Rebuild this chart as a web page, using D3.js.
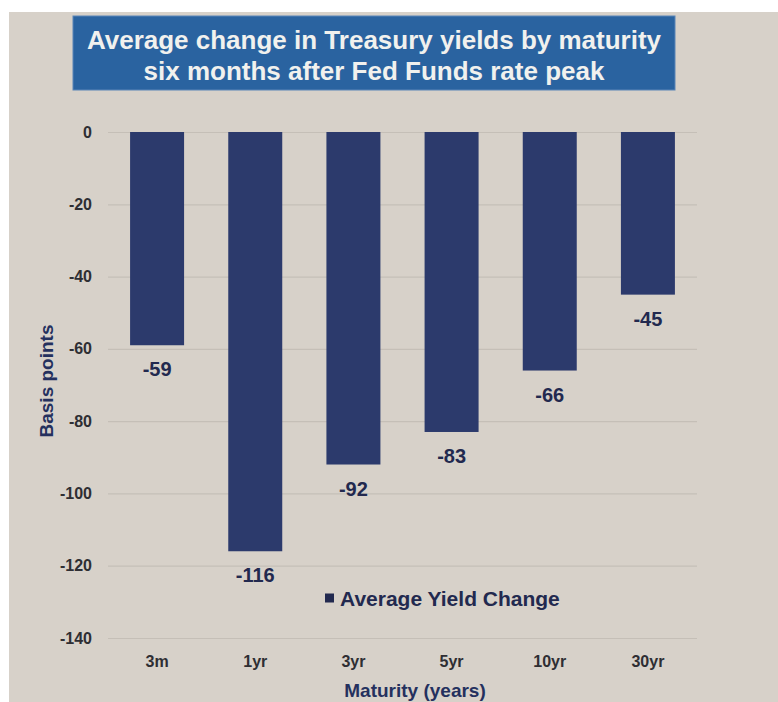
<!DOCTYPE html>
<html><head><meta charset="utf-8">
<script src="https://cdn.jsdelivr.net/npm/d3@7/dist/d3.min.js"></script>
<style>html,body{margin:0;padding:0;background:#fff;}svg{display:block;} svg text{font-family:"Liberation Sans",Arial,sans-serif;font-weight:bold;}</style>
</head><body>
<script>
const categories = ["3m","1yr","3yr","5yr","10yr","30yr"];
const values = [-59,-116,-92,-83,-66,-45];
const yTicks = [0,-20,-40,-60,-80,-100,-120,-140];
const seriesName = "Average Yield Change";
const titleLines = ["Average change in Treasury yields by maturity","six months after Fed Funds rate peak"];
const xTitle = "Maturity (years)";
const yTitle = "Basis points";

const W = 778, H = 702;
const svg = d3.select("body").append("svg").attr("width", W).attr("height", H);

// paper background
svg.append("rect").attr("x", 9).attr("y", 12).attr("width", W - 9).attr("height", H - 12).attr("fill", "#d7d1c9");

const plot = {left: 108, right: 697, top: 132, bottom: 638};
const x = d3.scaleBand().domain(categories).range([plot.left, plot.right]).paddingInner(0.45).paddingOuter(0.225);
const y = d3.scaleLinear().domain([0, -140]).range([plot.top, plot.bottom]);

// title box
svg.append("rect").attr("x", 73).attr("y", 16).attr("width", 602).attr("height", 74)
  .attr("fill", "#2a63a0").attr("stroke", "#5a86b8").attr("stroke-width", 1);
svg.append("text").attr("x", 374).attr("text-anchor", "middle").attr("fill", "#f1f1ee")
  .attr("font-size", 26)
  .selectAll("tspan").data(titleLines).join("tspan")
  .attr("x", 374).attr("y", (d, i) => 49 + i * 31).text(d => d);

// gridlines + y axis
const yAxis = d3.axisLeft(y).tickValues(yTicks).tickFormat(d => String(d))
  .tickSize(-(plot.right - plot.left)).tickPadding(16);
const gy = svg.append("g").attr("transform", `translate(${plot.left},0)`).call(yAxis);
gy.attr("font-family", null).attr("font-size", null);
gy.select(".domain").remove();
gy.selectAll(".tick line").attr("stroke", "#c5bfb7").attr("stroke-width", 1.2);
gy.selectAll(".tick text").attr("fill", "#2e2e33").attr("font-size", 16);

// bars
svg.append("g").selectAll("rect").data(values).join("rect")
  .attr("x", (d, i) => x(categories[i]))
  .attr("y", y(0))
  .attr("width", x.bandwidth())
  .attr("height", d => y(d) - y(0))
  .attr("fill", "#2c3a6c");

// value labels
svg.append("g").selectAll("text").data(values).join("text")
  .attr("x", (d, i) => x(categories[i]) + x.bandwidth() / 2)
  .attr("y", d => y(d) + 31)
  .attr("text-anchor", "middle").attr("fill", "#22294f")
  .attr("font-size", 20).text(d => String(d));

// x axis
const xAxis = d3.axisBottom(x).tickSize(0).tickPadding(18);
const gx = svg.append("g").attr("transform", `translate(0,${plot.bottom})`).call(xAxis);
gx.attr("font-family", null).attr("font-size", null);
gx.select(".domain").remove();
gx.selectAll(".tick text").attr("fill", "#2e2e33").attr("font-size", 16);

// axis titles
svg.append("text").attr("x", 415).attr("y", 697).attr("text-anchor", "middle")
  .attr("fill", "#24305e").attr("font-size", 19).text(xTitle);
svg.append("text").attr("transform", "translate(53,381) rotate(-90)").attr("text-anchor", "middle")
  .attr("fill", "#24305e").attr("font-size", 19).text(yTitle);

// legend
const lg = svg.append("g").attr("transform", "translate(325,598)");
lg.append("rect").attr("x", 0).attr("y", -4.5).attr("width", 9).attr("height", 9).attr("fill", "#22294f");
lg.append("text").attr("x", 15).attr("y", 7.5).attr("fill", "#22294f").attr("font-size", 21).text(seriesName);
</script>
</body></html>
